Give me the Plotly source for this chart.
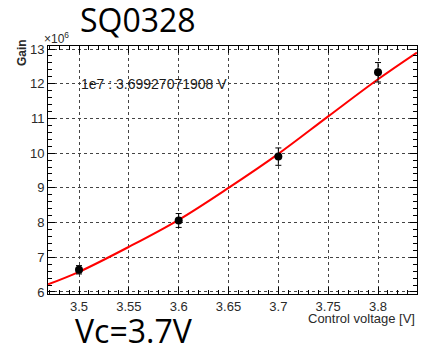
import plotly.graph_objects as go

# Measured points (gain in units of 1e6)
voltage = [3.5, 3.6, 3.7, 3.8]
gain = [6.64, 8.06, 9.9, 12.33]
gain_err = [0.12, 0.2, 0.25, 0.28]

# Fit curve
fit_v = [3.469, 3.5, 3.55, 3.6, 3.65, 3.7, 3.75, 3.8, 3.839]
fit_g = [6.22, 6.58, 7.3, 8.08, 9.0, 9.98, 11.06, 12.13, 12.9]

fig = go.Figure()
fig.add_trace(go.Scatter(x=fit_v, y=fit_g, mode="lines",
                         line=dict(color="#ff0000", width=2, shape="spline"),
                         hoverinfo="skip", showlegend=False))
fig.add_trace(go.Scatter(x=voltage, y=gain, mode="markers",
                         marker=dict(color="black", size=8),
                         error_y=dict(type="data", array=gain_err, color="black",
                                      thickness=1, width=3),
                         showlegend=False))

tickfont = dict(family="Liberation Sans, Arial, sans-serif", size=13, color="#2a2a2a")
fig.update_layout(
    width=421, height=349,
    margin=dict(l=48, r=4, t=46, b=55),
    paper_bgcolor="white", plot_bgcolor="white",
    xaxis=dict(range=[3.4689, 3.8391], tickvals=[3.5, 3.55, 3.6, 3.65, 3.7, 3.75, 3.8],
               ticktext=["3.5", "3.55", "3.6", "3.65", "3.7", "3.75", "3.8"],
               showgrid=True, gridcolor="#444444", griddash="dot", gridwidth=1,
               showline=True, linecolor="black", linewidth=1, mirror="allticks",
               ticks="inside", ticklen=7, tickcolor="black",
               minor=dict(dtick=0.01, ticks="inside", ticklen=4, tickcolor="black", showgrid=False),
               tickfont=tickfont, zeroline=False),
    yaxis=dict(range=[5.942, 13.087], tickvals=list(range(6, 14)),
               showgrid=True, gridcolor="#444444", griddash="dot", gridwidth=1,
               showline=True, linecolor="black", linewidth=1, mirror="allticks",
               ticks="inside", ticklen=7, tickcolor="black",
               minor=dict(dtick=0.2, ticks="inside", ticklen=4, tickcolor="black", showgrid=False),
               tickfont=tickfont, zeroline=False),
)

anns = [
    dict(text="SQ0328", x=0.244, y=1.105, xref="paper", yref="paper", xanchor="center", yanchor="middle",
         font=dict(family="Open Sans, Liberation Sans, sans-serif", size=32, color="black")),
    dict(text="×10<sup>6</sup>", x=0.0, y=1.0, xref="paper", yref="paper", xanchor="left", yanchor="bottom",
         xshift=-6, yshift=-2, font=dict(family="Liberation Sans, Arial", size=12, color="#2a2a2a")),
    dict(text="<b>Gain</b>", x=-0.069, y=0.974, xref="paper", yref="paper", xanchor="center", yanchor="middle",
         textangle=-90, font=dict(family="Liberation Sans, Arial", size=12, color="#2a2a2a")),
    dict(text="1e7 : 3.69927071908 V", x=3.5, y=12.0, xref="x", yref="y", xanchor="left", yanchor="middle",
         xshift=0, font=dict(family="Liberation Sans, Arial", size=14, color="#1a1a1a")),
    dict(text="Control voltage [V]", x=1.0, y=0.0, xref="paper", yref="paper", xanchor="right", yanchor="top",
         yshift=-15, font=dict(family="Liberation Sans, Arial", size=13, color="#2a2a2a")),
    dict(text="Vc=3.7V", x=0.233, y=-0.149, xref="paper", yref="paper", xanchor="center", yanchor="middle",
         font=dict(family="Open Sans, Liberation Sans, sans-serif", size=32, color="black")),
]
for a in anns:
    a["showarrow"] = False
    fig.add_annotation(**a)

fig.write_html("out.html", config={"displayModeBar": False},
               post_script="document.body.style.margin='0';document.body.style.overflow='hidden';")
